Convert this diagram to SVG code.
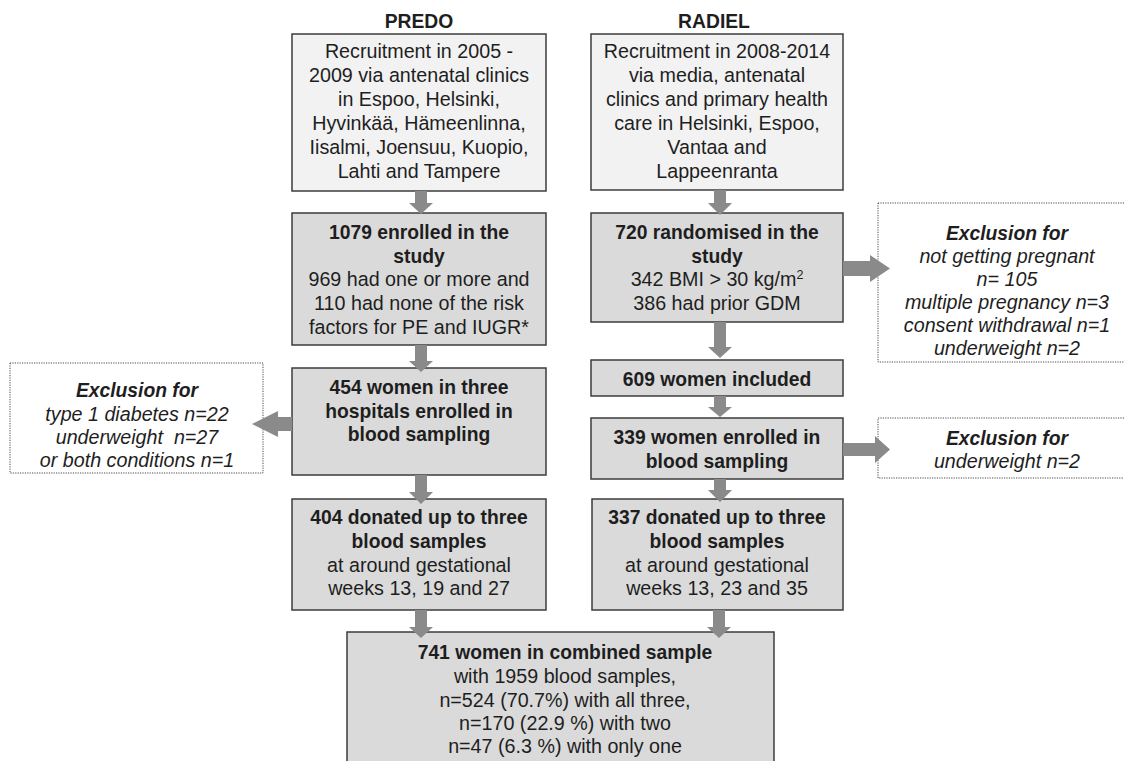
<svg xmlns="http://www.w3.org/2000/svg" width="1124" height="761" viewBox="0 0 1124 761">
<style>
text{font-family:"Liberation Sans",Arial,sans-serif;font-size:19.7px;fill:#1e1e1e;text-anchor:middle}
.b{font-weight:bold;font-size:19.3px}
.i{font-style:italic}
.bi{font-weight:bold;font-style:italic;font-size:19.3px}
.light{fill:#f2f2f2;stroke:#3c3c3c;stroke-width:1.5}
.box{fill:#dadada;stroke:#3c3c3c;stroke-width:1.5}
.excl{fill:#ffffff;stroke:#4a4a4a;stroke-width:1;stroke-dasharray:1.2 1.2}
.arr{fill:#8a8a8a}
</style>
<rect width="1124" height="761" fill="#ffffff"/>

<g id="labels">
<text class="b" x="419" y="28">PREDO</text>
<text class="b" x="714" y="28">RADIEL</text>
</g>

<g id="predo-recruit">
<rect class="light" x="292" y="34" width="254" height="157"/>
<text x="419" y="58">Recruitment in 2005 -</text>
<text x="419" y="82">2009 via antenatal clinics</text>
<text x="419" y="106">in Espoo, Helsinki,</text>
<text x="419" y="130">Hyvinkää, Hämeenlinna,</text>
<text x="419" y="154">Iisalmi, Joensuu, Kuopio,</text>
<text x="419" y="178">Lahti and Tampere</text>
</g>

<g id="radiel-recruit">
<rect class="light" x="591" y="34" width="252" height="156"/>
<text x="717" y="58">Recruitment in 2008-2014</text>
<text x="717" y="82">via media, antenatal</text>
<text x="717" y="106">clinics and primary health</text>
<text x="717" y="130">care in Helsinki, Espoo,</text>
<text x="717" y="154">Vantaa and</text>
<text x="717" y="178">Lappeenranta</text>
</g>

<g id="predo-enrolled">
<rect class="box" x="292" y="213" width="254" height="132"/>
<text class="b" x="419" y="239">1079 enrolled in the</text>
<text class="b" x="419" y="262.5">study</text>
<text x="419" y="286">969 had one or more and</text>
<text x="419" y="310">110 had none of the risk</text>
<text x="419" y="334">factors for PE and IUGR*</text>
</g>

<g id="radiel-randomised">
<rect class="box" x="591" y="213" width="252" height="109"/>
<text class="b" x="717" y="239">720 randomised in the</text>
<text class="b" x="717" y="262.5">study</text>
<text x="717" y="286">342 BMI &gt; 30 kg/m<tspan font-size="12.5" dy="-7">2</tspan></text>
<text x="717" y="310">386 had prior GDM</text>
</g>

<g id="radiel-excl1">
<rect class="excl" x="878" y="203" width="258" height="159"/>
<text class="bi" x="1007" y="240">Exclusion for</text>
<text class="i" x="1007" y="263">not getting pregnant</text>
<text class="i" x="1007" y="286">n= 105</text>
<text class="i" x="1007" y="309">multiple pregnancy n=3</text>
<text class="i" x="1007" y="332">consent withdrawal n=1</text>
<text class="i" x="1007" y="355">underweight n=2</text>
</g>

<g id="radiel-included">
<rect class="box" x="591" y="360" width="252" height="36"/>
<text class="b" x="717" y="386">609 women included</text>
</g>

<g id="predo-blood">
<rect class="box" x="292" y="368" width="254" height="107"/>
<text class="b" x="419" y="394">454 women in three</text>
<text class="b" x="419" y="417.5">hospitals enrolled in</text>
<text class="b" x="419" y="441">blood sampling</text>
</g>

<g id="predo-excl">
<rect class="excl" x="10" y="363" width="253" height="110"/>
<text class="bi" x="137" y="397">Exclusion for</text>
<text class="i" x="137" y="421">type 1 diabetes n=22</text>
<text class="i" x="137" y="444" xml:space="preserve">underweight  n=27</text>
<text class="i" x="137" y="467">or both conditions n=1</text>
</g>

<g id="radiel-blood">
<rect class="box" x="591" y="418" width="252" height="61"/>
<text class="b" x="717" y="444">339 women enrolled in</text>
<text class="b" x="717" y="468">blood sampling</text>
</g>

<g id="radiel-excl2">
<rect class="excl" x="878" y="418" width="258" height="60"/>
<text class="bi" x="1007" y="445">Exclusion for</text>
<text class="i" x="1007" y="468">underweight n=2</text>
</g>

<g id="predo-donated">
<rect class="box" x="292" y="499" width="254" height="111"/>
<text class="b" x="419" y="524">404 donated up to three</text>
<text class="b" x="419" y="548">blood samples</text>
<text x="419" y="572">at around gestational</text>
<text x="419" y="595">weeks 13, 19 and 27</text>
</g>

<g id="radiel-donated">
<rect class="box" x="592" y="499" width="251" height="111"/>
<text class="b" x="717" y="524">337 donated up to three</text>
<text class="b" x="717" y="548">blood samples</text>
<text x="717" y="572">at around gestational</text>
<text x="717" y="595">weeks 13, 23 and 35</text>
</g>

<g id="combined">
<rect class="box" x="347" y="632" width="427" height="140"/>
<text class="b" x="565" y="659">741 women in combined sample</text>
<text x="565" y="683">with 1959 blood samples,</text>
<text x="565" y="707">n=524 (70.7%) with all three,</text>
<text x="565" y="730">n=170 (22.9 %) with two</text>
<text x="565" y="753">n=47 (6.3 %) with only one</text>
</g>

<g id="connectors">
<polygon class="arr" points="415,191 427,191 427,203 433,203 421,214 409,203 415,203"/>
<polygon class="arr" points="415,345 427,345 427,361 433,361 421,372 409,361 415,361"/>
<polygon class="arr" points="415,475 427,475 427,492 433,492 421,504 409,492 415,492"/>
<polygon class="arr" points="415,610 427,610 427,627 433,627 421,638 409,627 415,627"/>
<polygon class="arr" points="714,190 726,190 726,203 732,203 720,215 708,203 714,203"/>
<polygon class="arr" points="714,322 726,322 726,347 732,347 720,358 708,347 714,347"/>
<polygon class="arr" points="714,396 726,396 726,407 732,407 720,417 708,407 714,407"/>
<polygon class="arr" points="714,479 726,479 726,490 732,490 720,502 708,490 714,490"/>
<polygon class="arr" points="713,610 725,610 725,627 731,627 719,638 707,627 713,627"/>
<polygon class="arr" points="843,261 870,261 870,255 890,268.5 870,282 870,276 843,276"/>
<polygon class="arr" points="843,443 875,443 875,436 890,449.5 875,463 875,456 843,456"/>
<polygon class="arr" points="292,417 278,417 278,411 252,424 278,437 278,431 292,431"/>
</g>
</svg>
